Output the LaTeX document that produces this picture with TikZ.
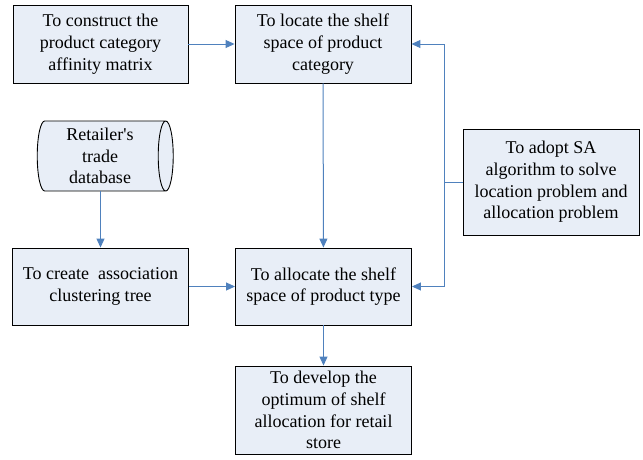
\documentclass[tikz,border=0pt]{standalone}
\usepackage{fontspec}
\setmainfont{Liberation Serif}
\newfontfamily\timesfont{Liberation Serif}
\usetikzlibrary{shapes.geometric,arrows.meta,calc}
\definecolor{boxfill}{HTML}{E8EEF7}
\definecolor{linkblue}{HTML}{4F81BD}

\begin{document}
\begin{tikzpicture}[x=1pt,y=-1pt,
   box/.style={draw=black,fill=boxfill,line width=0.9pt,align=center,inner sep=2pt,
     font=\timesfont\fontsize{18}{21.7}\selectfont},
   link/.style={draw=linkblue,line width=1pt,-{Triangle[length=9pt,width=8pt]}},
   bus/.style={draw=linkblue,line width=1pt}]
   \useasboundingbox (0,0) rectangle (643,459);
   \node[box,minimum width=175pt,minimum height=78pt] (construct) at (100.5,44)
     {To construct the\\product category\\affinity matrix};
   \node[box,minimum width=176pt,minimum height=78pt] (locate) at (323,44)
     {To locate the shelf\\space of product\\category};
   \node[box,shape=cylinder,aspect=0.25,minimum width=70pt,minimum height=136pt] (database) at (100,156)
     {Retailer\textquotesingle s\\trade\\database};
   \node[box,minimum width=176pt,minimum height=77pt] (create) at (100.5,286.5)
     {To create~~association\\clustering tree};
   \node[box,minimum width=176pt,minimum height=77pt] (allocate) at (323.5,286.5)
     {To allocate the shelf\\space of product type};
   \node[box,minimum width=176pt,minimum height=106pt] (adopt) at (551,182)
     {To adopt SA\\algorithm to solve\\location problem and\\allocation problem};
   \node[box,minimum width=176pt,minimum height=88pt] (develop) at (323.5,410)
     {To develop the\\optimum of shelf\\allocation for retail\\store};
   \coordinate (split) at ($(adopt.west)+(-18,0)$);
   \draw[link] (construct) -- (locate);
   \draw[link] (locate) -- (allocate);
   \draw[link] (database.south -| create.north) -- (create);
   \draw[link] (create) -- (allocate);
   \draw[link] (allocate) -- (develop);
   \draw[bus] (adopt.west) -- (split);
   \draw[link] (split) |- (locate.east);
   \draw[link] (split) |- (allocate.east);
\end{tikzpicture}
\end{document}
